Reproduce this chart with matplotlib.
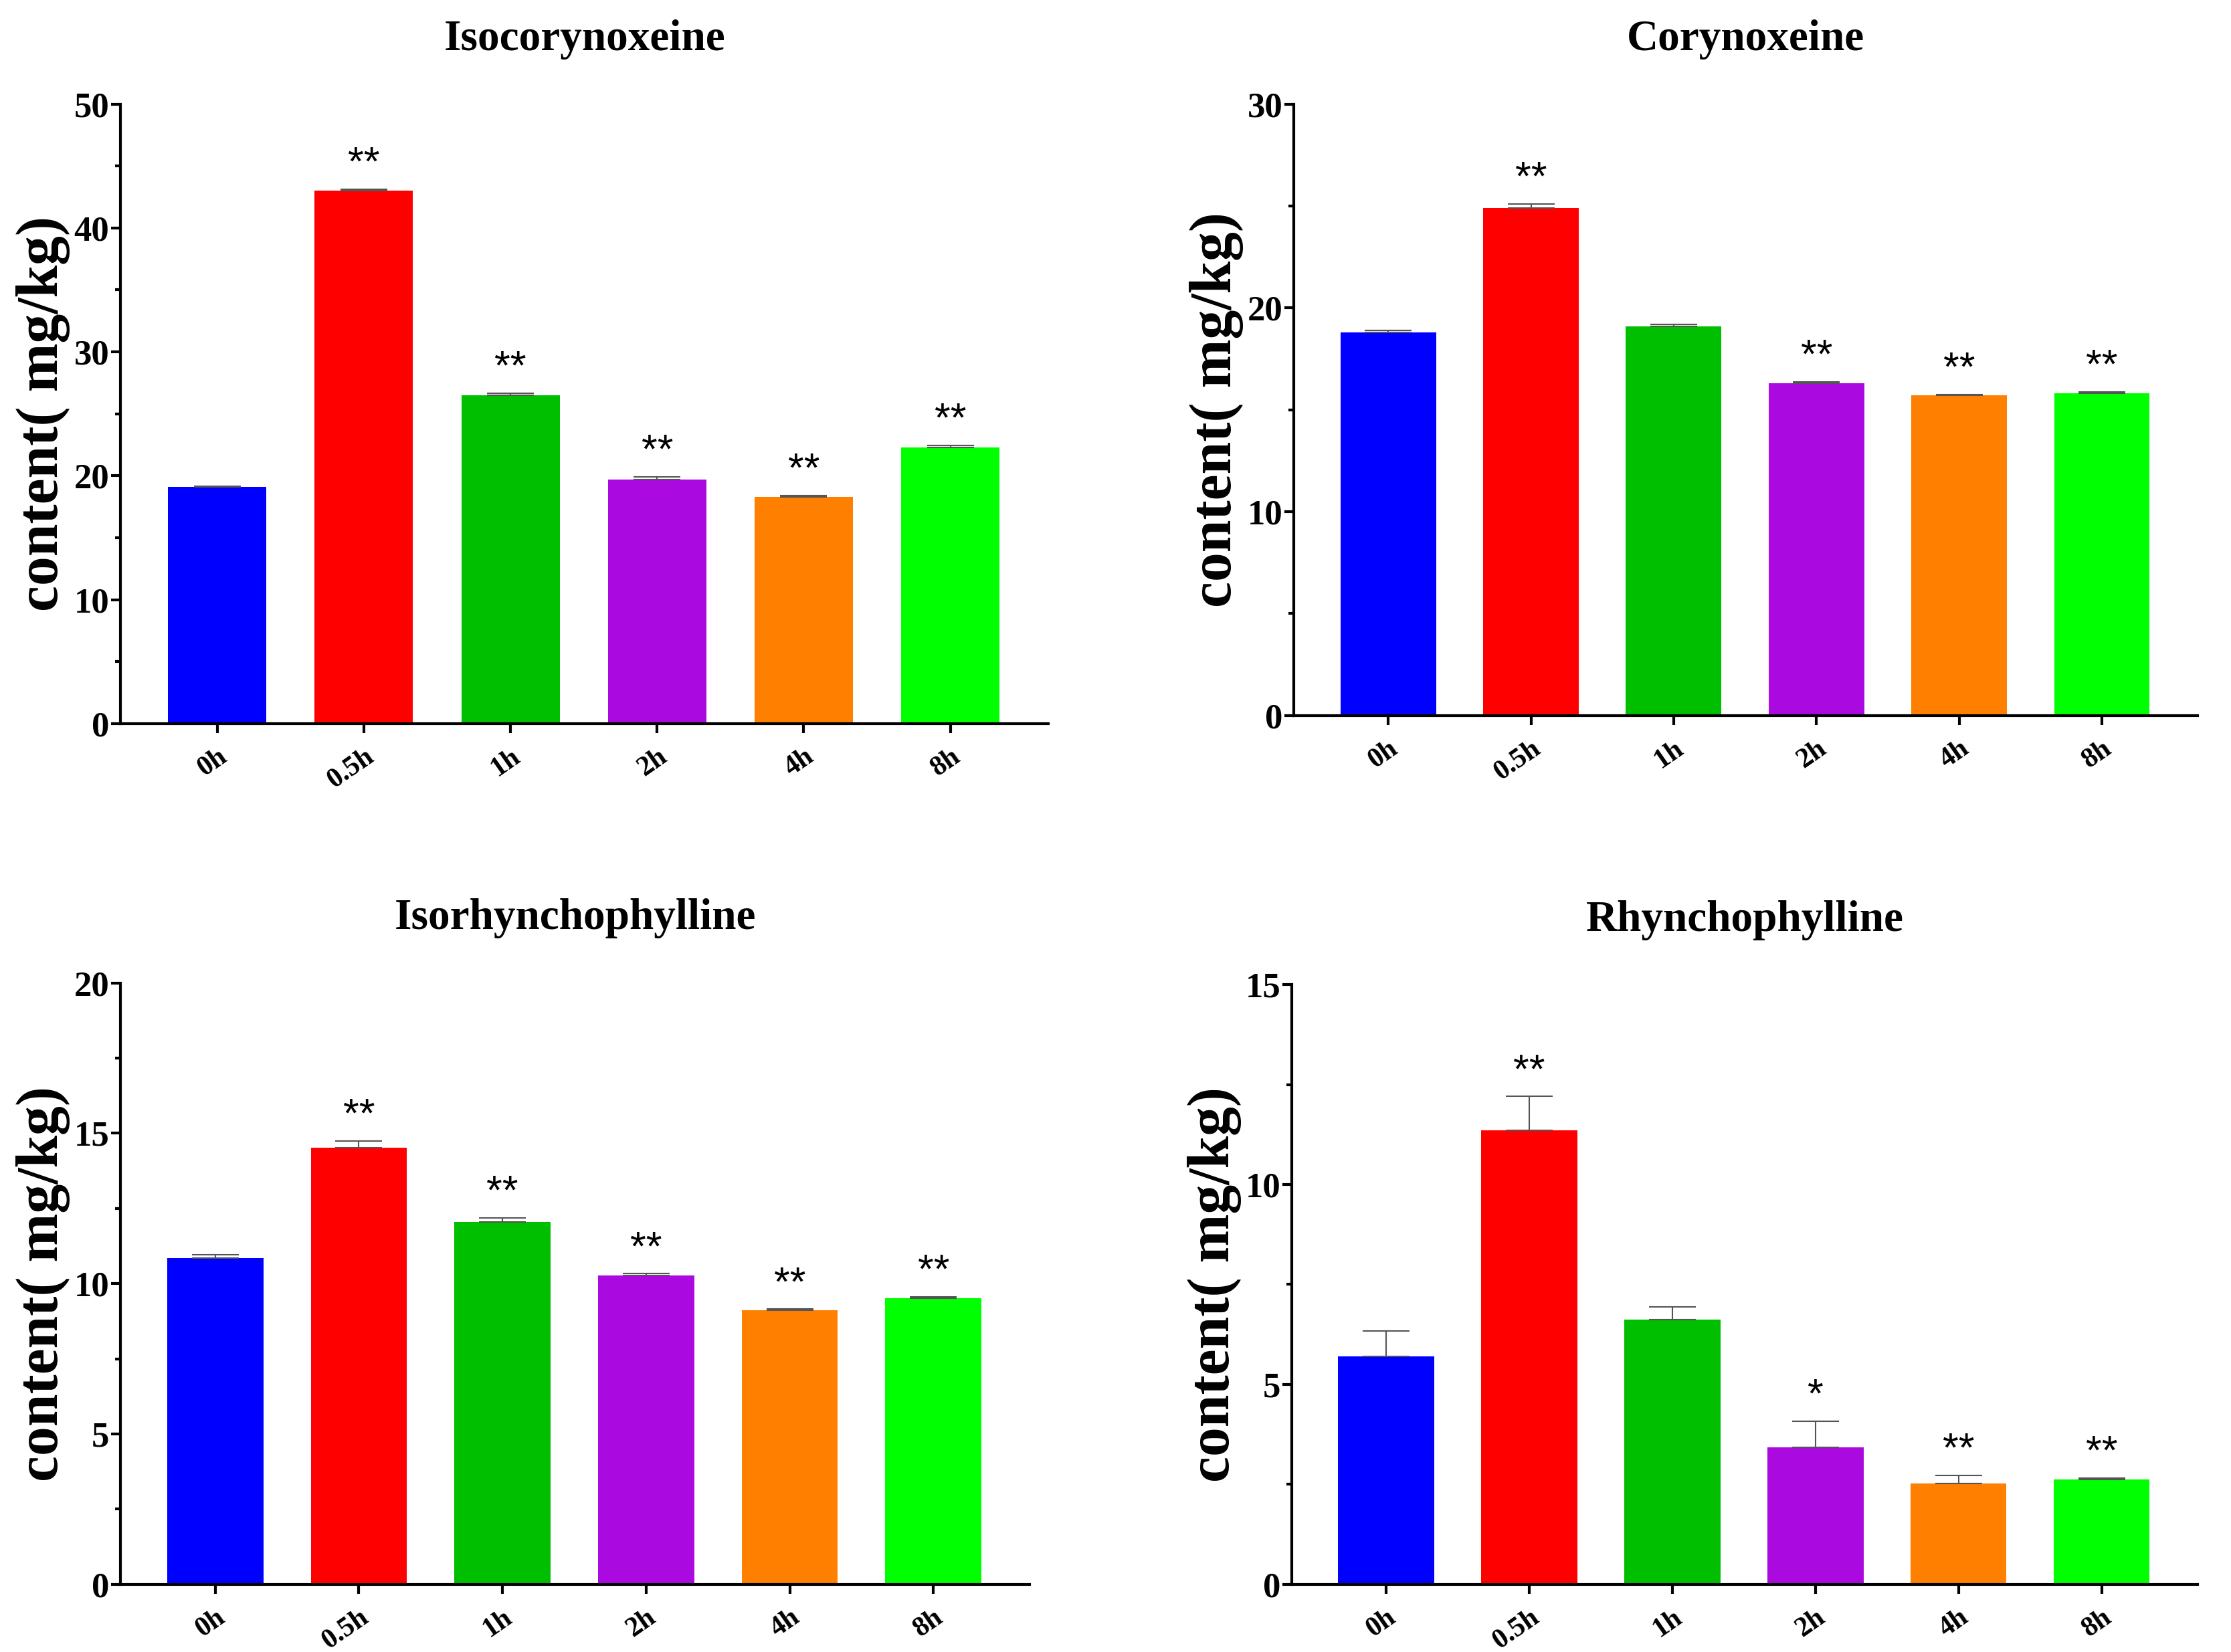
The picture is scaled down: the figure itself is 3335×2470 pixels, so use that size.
import matplotlib.pyplot as plt
from matplotlib.ticker import MultipleLocator

plt.rcParams['font.family'] = ['Liberation Serif', 'Noto Sans CJK SC']
plt.rcParams['font.weight'] = 'bold'

groups = ['0h', '0.5h', '1h', '2h', '4h', '8h']
colors = ['#0000FF', '#FF0000', '#00BF00', '#AA0AE0', '#FF8000', '#00FF00']

iso_cory = [19.1, 43.0, 26.5, 19.7, 18.3, 22.3]
iso_cory_err = [0.08, 0.15, 0.15, 0.2, 0.1, 0.15]
iso_cory_sig = ['', '**', '**', '**', '**', '**']

cory = [18.8, 24.9, 19.1, 16.3, 15.7, 15.8]
cory_err = [0.08, 0.2, 0.1, 0.08, 0.05, 0.08]
cory_sig = ['', '**', '', '**', '**', '**']

iso_rhy = [10.85, 14.52, 12.06, 10.28, 9.12, 9.52]
iso_rhy_err = [0.12, 0.23, 0.13, 0.05, 0.03, 0.04]
iso_rhy_sig = ['', '**', '**', '**', '**', '**']

rhy = [5.7, 11.36, 6.62, 3.42, 2.53, 2.62]
rhy_err = [0.64, 0.84, 0.32, 0.66, 0.19, 0.04]
rhy_sig = ['', '**', '', '*', '**', '**']

panels = [
    ('Isocorynoxeine', iso_cory, iso_cory_err, iso_cory_sig, 50, 10, [0.054, 0.562, 0.416, 0.375]),
    ('Corynoxeine', cory, cory_err, cory_sig, 30, 10, [0.580, 0.567, 0.405, 0.370]),
    ('Isorhynchophylline', iso_rhy, iso_rhy_err, iso_rhy_sig, 20, 5, [0.054, 0.041, 0.4075, 0.364]),
    ('Rhynchophylline', rhy, rhy_err, rhy_sig, 15, 5, [0.579, 0.041, 0.406, 0.363]),
]

fig = plt.figure(figsize=(33.35, 24.70), dpi=100)

for title, vals, errs, sig, ymax, step, rect in panels:
    ax = fig.add_axes(rect)
    x = list(range(len(groups)))
    ax.bar(x, vals, width=0.67, color=colors)
    ax.errorbar(x, vals, yerr=[[0] * len(errs), errs], fmt='none',
                ecolor='#555555', elinewidth=1.5, capsize=25, capthick=1.5)
    for xi, v, e, s in zip(x, vals, errs, sig):
        if s:
            ax.annotate(s, (xi, v + e), xytext=(0, 6), textcoords='offset points',
                        ha='center', va='bottom', fontsize=44,
                        family='Liberation Sans', fontweight='normal')
    ax.set_xlim(-0.66, 5.67)
    ax.set_ylim(0, ymax)
    ax.yaxis.set_major_locator(MultipleLocator(step))
    ax.yaxis.set_minor_locator(MultipleLocator(step / 2))
    ax.set_xticks(x)
    ax.set_xticklabels(groups, rotation=35, ha='right', rotation_mode='anchor',
                       fontsize=30, fontweight='bold')
    for lab in ax.get_yticklabels():
        lab.set_fontsize(38)
        lab.set_fontweight('bold')
    ax.tick_params(axis='both', which='major', width=3, length=10)
    ax.tick_params(axis='y', which='minor', width=3, length=6)
    ax.tick_params(axis='y', pad=2)
    ax.tick_params(axis='x', pad=12)
    ax.spines['top'].set_visible(False)
    ax.spines['right'].set_visible(False)
    ax.spines['left'].set_linewidth(3)
    ax.spines['bottom'].set_linewidth(3)
    ax.set_ylabel('content( mg/kg)', fontsize=63, fontweight='bold', labelpad=4)
    ax.set_title(title, fontsize=47, fontweight='bold', pad=58)

fig.savefig('out.png', dpi=100)
